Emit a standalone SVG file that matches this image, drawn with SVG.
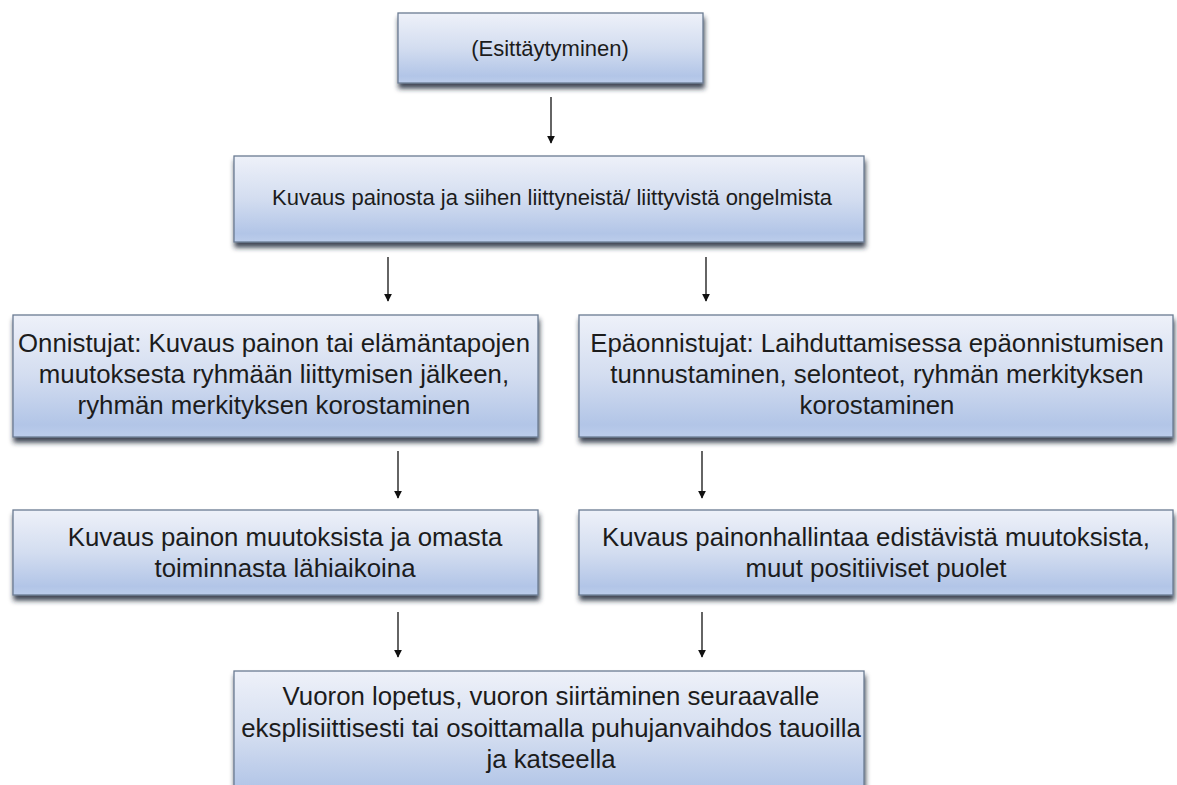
<svg xmlns="http://www.w3.org/2000/svg" width="1177" height="785" viewBox="0 0 1177 785">
<defs>
<linearGradient id="g" x1="0" y1="0" x2="0" y2="1">
<stop offset="0" stop-color="#eef1f9"/>
<stop offset="0.5" stop-color="#d3ddf0"/>
<stop offset="0.9" stop-color="#b2c5e7"/>
<stop offset="1" stop-color="#bccdeb"/>
</linearGradient>
<filter id="sh" x="-5%" y="-10%" width="110%" height="130%">
<feGaussianBlur in="SourceAlpha" stdDeviation="2.5"/>
<feOffset dx="1" dy="5" result="b"/>
<feFlood flood-color="#1e2838" flood-opacity="0.85"/>
<feComposite in2="b" operator="in"/>
<feMerge><feMergeNode/><feMergeNode in="SourceGraphic"/></feMerge>
</filter>
<marker id="ah" viewBox="0 0 10 10" refX="9" refY="5" markerWidth="8" markerHeight="8" markerUnits="userSpaceOnUse" orient="auto">
<path d="M0,0 L10,5 L0,10 z" fill="#111"/>
</marker>
</defs>
<style>
.box{fill:url(#g);stroke:#6a7b93;stroke-width:1.3;filter:url(#sh)}
text{font-family:"Liberation Sans",Arial,sans-serif;fill:#1c1c1c;text-anchor:middle}
.s{font-size:22px}
.m{font-size:25.8px}
.c{stroke:#111;stroke-width:1.3;fill:none;marker-end:url(#ah)}
</style>
<rect width="1177" height="785" fill="#fff"/>
<g id="connectors">
<line class="c" x1="551" y1="97" x2="551" y2="143"/>
<line class="c" x1="388" y1="257" x2="388" y2="301"/>
<line class="c" x1="706" y1="257" x2="706" y2="301"/>
<line class="c" x1="398" y1="451" x2="398" y2="498"/>
<line class="c" x1="702" y1="451" x2="702" y2="498"/>
<line class="c" x1="398" y1="612" x2="398" y2="657"/>
<line class="c" x1="702" y1="612" x2="702" y2="657"/>
</g>
<g id="n1">
<rect class="box" x="398" y="13" width="305" height="70"/>
<text class="s" x="550" y="56">(Esittäytyminen)</text>
</g>
<g id="n2">
<rect class="box" x="234" y="156" width="630" height="86"/>
<text class="s" x="552" y="205">Kuvaus painosta ja siihen liittyneistä/ liittyvistä ongelmista</text>
</g>
<g id="n3">
<rect class="box" x="13" y="315" width="525" height="122"/>
<text class="m" x="274" y="352">Onnistujat: Kuvaus painon tai elämäntapojen</text>
<text class="m" x="274" y="383">muutoksesta ryhmään liittymisen jälkeen,</text>
<text class="m" x="274" y="414">ryhmän merkityksen korostaminen</text>
</g>
<g id="n4">
<rect class="box" x="579" y="315" width="594" height="122"/>
<text class="m" x="877" y="352">Epäonnistujat: Laihduttamisessa epäonnistumisen</text>
<text class="m" x="877" y="383">tunnustaminen, selonteot, ryhmän merkityksen</text>
<text class="m" x="877" y="414">korostaminen</text>
</g>
<g id="n5">
<rect class="box" x="13" y="510" width="525" height="85"/>
<text class="m" x="285" y="546">Kuvaus painon muutoksista ja omasta</text>
<text class="m" x="285" y="577">toiminnasta lähiaikoina</text>
</g>
<g id="n6">
<rect class="box" x="579" y="510" width="594" height="85"/>
<text class="m" x="876" y="546">Kuvaus painonhallintaa edistävistä muutoksista,</text>
<text class="m" x="876" y="577">muut positiiviset puolet</text>
</g>
<g id="n7">
<rect class="box" x="234" y="671" width="630" height="130"/>
<text class="m" x="551" y="705">Vuoron lopetus, vuoron siirtäminen seuraavalle</text>
<text class="m" x="551" y="737">eksplisiittisesti tai osoittamalla puhujanvaihdos tauoilla</text>
<text class="m" x="551" y="768">ja katseella</text>
</g>
</svg>
